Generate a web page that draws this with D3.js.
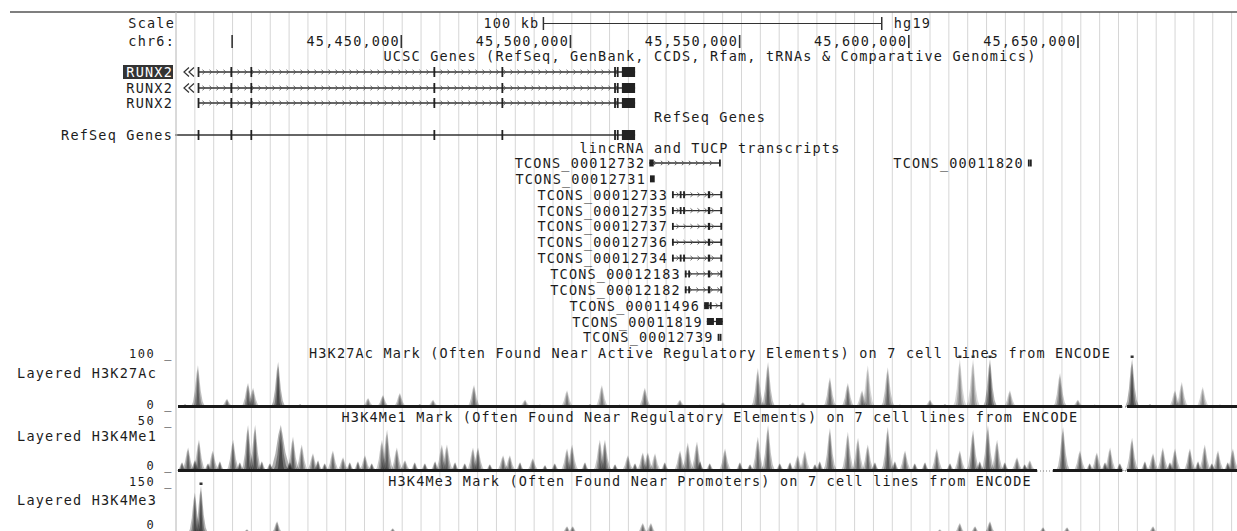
<!DOCTYPE html>
<html>
<head>
<meta charset="utf-8">
<script src="https://cdn.jsdelivr.net/npm/d3@7"></script>
<style>
  body { margin: 0; background: #fff; }
  text { font-family: "DejaVu Sans Mono", monospace; font-size: 13.5px; letter-spacing: 1.2px; fill: #1c1c1c; }
  text.axis { font-size: 12px; letter-spacing: 1.6px; }
</style>
</head>
<body>
<div id="chart"></div>
<script>
// window on chr6, in kb
const viewKb = [45384, 45697]
const rulerTicks = [45400, 45450, 45500, 45550, 45600, 45650]
const rulerLabels = ["", "45,450,000", "45,500,000", "45,550,000", "45,600,000", "45,650,000"]
const scaleBarKb = [45492, 45592]

// RUNX2 transcripts (UCSC genes) + RefSeq
const runx2Names = ["RUNX2", "RUNX2", "RUNX2"]
const runx2Starts = [45389.9, 45389.9, 45389.9]
const runx2OffLeft = [true, true, false]
const runx2End = 45519.1
const runx2Exons = [[45389.8, 45390.2], [45399.5, 45399.9], [45405.4, 45405.8], [45459.5, 45459.9],
  [45479.6, 45480.0], [45512.9, 45513.3], [45513.7, 45514.1], [45515.2, 45519.1]]
const refSeqStart = 45384

// lincRNA / TUCP transcripts
const tconsNames = ["TCONS_00012732", "TCONS_00012731", "TCONS_00012733", "TCONS_00012735", "TCONS_00012737",
  "TCONS_00012736", "TCONS_00012734", "TCONS_00012183", "TCONS_00012182", "TCONS_00011496",
  "TCONS_00011819", "TCONS_00012739", "TCONS_00011820"]
const tconsRows = [0, 1, 2, 3, 4, 5, 6, 7, 8, 9, 10, 11, 0]
const tconsExons = [
  [[45523.3, 45524.6], [45543.9, 45544.3]],
  [[45523.5, 45524.9]],
  [[45530.0, 45530.4], [45532.3, 45532.7], [45533.3, 45533.7], [45540.6, 45541.3], [45544.3, 45544.8]],
  [[45530.0, 45530.4], [45532.3, 45532.7], [45533.3, 45533.7], [45540.6, 45541.3], [45544.3, 45544.8]],
  [[45530.0, 45530.4], [45540.6, 45541.3], [45544.3, 45544.8]],
  [[45530.0, 45530.4], [45540.6, 45541.3], [45544.3, 45544.8]],
  [[45530.0, 45530.4], [45532.3, 45532.7], [45533.3, 45533.7], [45540.6, 45541.3], [45544.3, 45544.8]],
  [[45533.8, 45534.2], [45534.8, 45535.2], [45540.6, 45541.3], [45544.3, 45544.8]],
  [[45533.8, 45534.2], [45534.8, 45535.2], [45540.6, 45541.3], [45544.3, 45544.8]],
  [[45539.5, 45540.9], [45541.2, 45541.6], [45544.3, 45544.8]],
  [[45540.3, 45542.4], [45543.0, 45545.0]],
  [[45543.5, 45543.8], [45544.1, 45544.4]],
  [[45635.2, 45635.5], [45635.8, 45636.1]]
]

// H3K27Ac peaks: [kb, value, cell lines showing it]
const k27acPeaks = [[45389.9, 87, 5], [45398.5, 17, 4], [45404.7, 50, 5], [45406.2, 40, 4], [45413.6, 94, 7],
  [45440.2, 19, 3], [45444.6, 25, 4], [45449.6, 29, 4], [45459.4, 15, 3], [45471.5, 46, 4], [45486.6, 15, 3],
  [45499.0, 35, 3], [45509.3, 46, 3], [45522.0, 40, 4], [45532.4, 15, 3], [45545.1, 10, 3], [45555.4, 81, 4],
  [45558.4, 94, 5], [45568.7, 10, 3], [45576.7, 62, 4], [45582.0, 50, 4], [45586.2, 35, 3], [45587.9, 87, 2],
  [45593.8, 83, 4], [45606.3, 15, 3], [45615.1, 110, 2], [45619.0, 110, 2], [45624.0, 110, 7], [45629.9, 35, 3],
  [45644.7, 71, 4], [45650.0, 15, 3], [45666.0, 110, 7], [45678.7, 35, 3], [45680.7, 52, 3], [45686.9, 42, 2]]
const k27acLow = [[45386.1, 6], [45393.5, 4], [45420.1, 6], [45426.0, 4], [45433.4, 5], [45455.5, 6], [45465.9, 5],
  [45479.2, 4], [45491.0, 5], [45505.8, 6], [45514.6, 5], [45538.3, 5], [45550.1, 4], [45564.9, 6], [45597.4, 5],
  [45610.7, 6], [45635.8, 4], [45655.0, 5], [45671.3, 6], [45692.0, 5]]

// H3K4Me1 peaks
const k4me1Peaks = [[45387.0, 24, 5], [45390.2, 32, 5], [45394.3, 21, 4], [45400.3, 32, 5], [45404.7, 47, 6],
  [45406.8, 47, 6], [45414.4, 47, 7], [45418.0, 35, 5], [45420.6, 27, 4], [45423.9, 18, 4], [45429.8, 21, 4],
  [45432.8, 14, 4], [45439.3, 16, 4], [45444.3, 32, 4], [45445.8, 42, 5], [45448.7, 24, 4], [45451.1, 11, 4],
  [45462.0, 27, 4], [45463.5, 27, 4], [45471.2, 24, 4], [45472.7, 24, 5], [45480.1, 16, 4], [45482.1, 16, 4],
  [45488.9, 13, 4], [45499.0, 23, 4], [45500.5, 27, 4], [45508.7, 32, 4], [45510.2, 32, 5], [45517.0, 16, 4],
  [45521.4, 19, 4], [45522.9, 19, 4], [45525.0, 18, 3], [45532.4, 21, 4], [45534.7, 29, 4], [45537.4, 30, 4],
  [45545.7, 23, 4], [45555.4, 35, 4], [45558.4, 47, 5], [45567.2, 16, 3], [45569.3, 21, 3], [45576.7, 44, 5],
  [45582.0, 40, 4], [45585.0, 34, 4], [45587.9, 27, 4], [45593.8, 45, 5], [45598.9, 21, 4], [45608.3, 23, 4],
  [45615.1, 21, 4], [45619.0, 42, 5], [45623.4, 47, 5], [45626.1, 32, 4], [45632.0, 14, 4], [45635.8, 11, 3],
  [45645.6, 45, 5], [45650.6, 21, 4], [45655.6, 19, 4], [45659.5, 24, 4], [45666.0, 34, 5], [45672.2, 18, 4],
  [45675.1, 24, 4], [45678.7, 23, 4], [45683.1, 23, 5], [45687.5, 27, 4], [45691.4, 21, 4], [45695.8, 23, 4]]
const k4me1Low = [[45385.2, 9], [45389.0, 11], [45392.9, 8], [45396.4, 10], [45402.3, 9], [45408.8, 10], [45411.2, 8],
  [45417.1, 9], [45425.4, 11], [45427.4, 8], [45434.8, 9], [45437.2, 10], [45441.3, 8], [45454.0, 9], [45457.0, 8],
  [45460.0, 10], [45465.9, 9], [45468.8, 8], [45476.2, 7], [45485.1, 9], [45492.5, 6], [45495.4, 8], [45504.3, 9],
  [45513.2, 7], [45519.1, 8], [45527.9, 9], [45538.3, 10], [45541.2, 8], [45550.1, 9], [45553.1, 7], [45561.9, 8],
  [45564.9, 9], [45572.3, 7], [45573.7, 10], [45590.0, 9], [45595.9, 10], [45601.8, 8], [45604.8, 9], [45612.2, 8],
  [45621.0, 10], [45628.4, 9], [45634.3, 7], [45653.5, 8], [45658.0, 9], [45662.4, 8], [45669.8, 10], [45677.2, 9],
  [45685.5, 10], [45689.6, 8], [45694.3, 9]]

// H3K4Me3 peaks
const k4me3Peaks = [[45389.0, 130, 6], [45390.8, 170, 7], [45404.4, 15, 4], [45413.3, 40, 5], [45447.5, 18, 4],
  [45499.0, 24, 4], [45500.7, 24, 4], [45521.4, 34, 4], [45523.8, 34, 4], [45609.2, 15, 3], [45615.1, 34, 4],
  [45619.6, 24, 4], [45624.0, 40, 5], [45639.7, 21, 4], [45646.8, 21, 4], [45672.2, 24, 4]]

const width = 1237, height = 531
const panelLeft = 178

const svg = d3.select("#chart").append("svg")
  .attr("width", width).attr("height", height)

const x = d3.scaleLinear().domain(viewKb).range([panelLeft, width])

// light guidelines behind everything
svg.append("g").selectAll("line")
  .data(d3.range(176, width, 18.85))
  .join("line")
  .attr("x1", d => d).attr("x2", d => d)
  .attr("y1", 12).attr("y2", height)
  .attr("stroke", "#d6d6d6").attr("stroke-width", 1)

// top rule
svg.append("line").attr("x1", 10).attr("x2", width).attr("y1", 12).attr("y2", 12)
  .attr("stroke", "#555").attr("stroke-width", 1.5)

function label(txt, px, py, anchor, g) {
  return (g || svg).append("text").attr("x", px).attr("y", py).attr("text-anchor", anchor || "start").text(txt)
}

// ---- ruler ----
label("Scale", 175, 28, "end")
label("chr6:", 175, 46, "end")
label("100 kb", x(scaleBarKb[0]) - 4, 28, "end")
label("hg19", x(scaleBarKb[1]) + 12, 28)
svg.append("line").attr("x1", x(scaleBarKb[0])).attr("x2", x(scaleBarKb[1])).attr("y1", 23.5).attr("y2", 23.5)
  .attr("stroke", "#333").attr("stroke-width", 1.2)
svg.selectAll(".sbtick").data(scaleBarKb).join("line")
  .attr("x1", d => x(d)).attr("x2", d => x(d)).attr("y1", 17).attr("y2", 30)
  .attr("stroke", "#333").attr("stroke-width", 1.5)

svg.selectAll(".rtick").data(rulerTicks).join("line")
  .attr("x1", d => x(d)).attr("x2", d => x(d)).attr("y1", 35).attr("y2", 48)
  .attr("stroke", "#333").attr("stroke-width", 1.6)
svg.selectAll(".rlab").data(rulerTicks).join("text")
  .attr("x", d => x(d) - 1.5).attr("y", 46).attr("text-anchor", "end")
  .text((d, i) => rulerLabels[i])

// ---- track titles ----
const titleX = 710
label("UCSC Genes (RefSeq, GenBank, CCDS, Rfam, tRNAs & Comparative Genomics)", titleX, 61, "middle")
label("RefSeq Genes", titleX, 122, "middle")
label("lincRNA and TUCP transcripts", titleX, 153, "middle")
label("H3K27Ac Mark (Often Found Near Active Regulatory Elements) on 7 cell lines from ENCODE", titleX, 358, "middle")
label("H3K4Me1 Mark (Often Found Near Regulatory Elements) on 7 cell lines from ENCODE", titleX, 422, "middle")
label("H3K4Me3 Mark (Often Found Near Promoters) on 7 cell lines from ENCODE", titleX, 486, "middle")

// ---- gene drawing ----
function drawGene(cy, start, end, exons, exonH, opts) {
  const g = svg.append("g")
  const x0 = x(start), x1 = x(end)
  g.append("line").attr("x1", x0).attr("x2", x1).attr("y1", cy).attr("y2", cy)
    .attr("stroke", "#333").attr("stroke-width", 1.3)
  // strand chevrons along introns
  g.selectAll("path.chev").data(d3.range(x0 + 6, x1 - 3, 7)).join("path")
    .attr("d", d => `M${d - 1.5},${cy - 2.2}L${d + 1},${cy}L${d - 1.5},${cy + 2.2}`)
    .attr("fill", "none").attr("stroke", "#555").attr("stroke-width", 0.9)
  g.selectAll("rect").data(exons).join("rect")
    .attr("x", d => x(d[0]))
    .attr("width", d => Math.max(1.8, x(d[1]) - x(d[0])))
    .attr("y", cy - exonH / 2).attr("height", exonH)
    .attr("fill", "#222")
  if (opts && opts.offLeft) {
    g.selectAll("path.off").data([0, 5]).join("path")
      .attr("d", d => `M${x0 - 14 + d + 5},${cy - 4.5}L${x0 - 14 + d},${cy}L${x0 - 14 + d + 5},${cy + 4.5}`)
      .attr("fill", "none").attr("stroke", "#333").attr("stroke-width", 1.2)
  }
  return g
}

const runx2Y = [72, 88, 103]
runx2Names.forEach((n, i) => {
  drawGene(runx2Y[i], runx2Starts[i], runx2End, runx2Exons, 10, { offLeft: runx2OffLeft[i] })
  if (i === 0) {
    svg.append("rect").attr("x", 123).attr("y", runx2Y[i] - 7).attr("width", 50).attr("height", 14).attr("fill", "#333")
    label(n, 173, runx2Y[i] + 5, "end").style("fill", "#fff")
  } else {
    label(n, 173, runx2Y[i] + 5, "end")
  }
})

const refY = 135
label("RefSeq Genes", 173, refY + 5, "end")
svg.append("line").attr("x1", 175).attr("x2", x(refSeqStart)).attr("y1", refY).attr("y2", refY)
  .attr("stroke", "#333").attr("stroke-width", 1.3)
{
  const g = drawGene(refY, refSeqStart, runx2End, runx2Exons, 10)
  g.selectAll("path").remove()
}

// lincRNA transcripts
const tconsY0 = 163, tconsStep = 15.85
tconsNames.forEach((n, i) => {
  const cy = tconsY0 + tconsRows[i] * tconsStep
  const ex = tconsExons[i]
  const s = ex[0][0], e = ex[ex.length - 1][1]
  const g = drawGene(cy, s, e, ex, 7)
  if (x(e) - x(s) < 12) g.selectAll("path, line").remove()
  label(n, x(s) - 4, cy + 5, "end")
})

// ---- signal tracks ----
const peakShape = [[-1, 0], [-0.7, 0.12], [-0.45, 0.38], [-0.2, 0.8], [0, 1], [0.15, 0.78], [0.38, 0.4], [0.65, 0.14], [1, 0]]
const layers = [{ w: 1, h: 1, o: 0.34 }, { w: 0.65, h: 0.9, o: 0.4 }, { w: 0.32, h: 0.7, o: 0.5 }]
const peakLine = d3.line()

function drawSignal(spec) {
  const y = d3.scaleLinear().domain([0, spec.max]).range([spec.base, spec.top]).clamp(true)
  const g = svg.append("g")
  const halfW = x(viewKb[0] + spec.span / 2) - x(viewKb[0])
  const peaks = spec.peaks.map(p => ({ at: p[0], v: p[1], n: p[2], wide: p[3] || 1 }))
    .concat(spec.low.map(p => ({ at: p[0], v: p[1], n: 6, wide: 0.8 })))
  peaks.forEach(p => {
    const cx = x(p.at), top = y(p.v)
    const dark = 0.35 + 0.65 * p.n / 7
    layers.forEach(l => {
      g.append("path")
        .attr("d", peakLine(peakShape.map(([u, v]) => [cx + u * halfW * l.w * p.wide, spec.base - v * l.h * (spec.base - top)])))
        .attr("fill", "#1a1a1a").attr("opacity", l.o * dark)
    })
    if (p.v > spec.max) {
      g.append("rect").attr("x", cx - 1.5).attr("y", spec.top - 3.5).attr("width", 3).attr("height", 2.5).attr("fill", "#333")
    }
  })
  // baseline, broken where no data
  const cuts = [viewKb[0]].concat(...spec.gaps).concat([viewKb[1]])
  for (let i = 0; i < cuts.length; i += 2) {
    g.append("line").attr("x1", x(cuts[i])).attr("x2", x(cuts[i + 1]))
      .attr("y1", spec.base - 0.5).attr("y2", spec.base - 0.5)
      .attr("stroke", "#1a1a1a").attr("stroke-width", 3)
  }
  spec.gaps.forEach(gp => {
    g.append("line").attr("x1", x(gp[0])).attr("x2", x(gp[1]))
      .attr("y1", spec.base).attr("y2", spec.base)
      .attr("stroke", "#777").attr("stroke-width", 1).attr("stroke-dasharray", "1,2")
  })
  label(spec.maxLabel + " _", 173, spec.maxY, "end").attr("class", "axis")
  label(spec.name, 157, spec.labelY, "end")
  label("0 _", 173, spec.zeroY, "end").attr("class", "axis")
}

drawSignal({ name: "Layered H3K27Ac", max: 100, maxLabel: "100", top: 359, base: 407, labelY: 378,
  maxY: 358, zeroY: 409, span: 4.2, peaks: k27acPeaks, low: k27acLow, gaps: [[45663.0, 45664.5]] })
drawSignal({ name: "Layered H3K4Me1", max: 50, maxLabel: "50", top: 422, base: 471, labelY: 441,
  maxY: 425, zeroY: 470, span: 4.2, peaks: k4me1Peaks.map(p => p[0] === 45414.4 ? p.concat([1.7]) : p), low: k4me1Low,
  gaps: [[45637.9, 45642.6], [45663.0, 45664.5]] })
drawSignal({ name: "Layered H3K4Me3", max: 150, maxLabel: "150", top: 486, base: 534, labelY: 505,
  maxY: 486, zeroY: 529, span: 4.2, peaks: k4me3Peaks, low: [], gaps: [] })

// left panel border
svg.append("line").attr("x1", 176).attr("x2", 176).attr("y1", 12).attr("y2", height)
  .attr("stroke", "#c8c8c8").attr("stroke-width", 1)
</script>
</body>
</html>
